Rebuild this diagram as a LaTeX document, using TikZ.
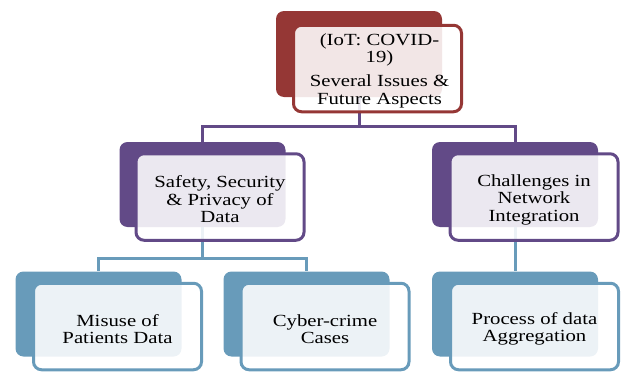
\documentclass[tikz,border=0pt]{standalone}
\usepackage{fontspec}
\setmainfont{Liberation Serif}[FakeStretch=1.22]
\definecolor{redc}{RGB}{149,55,53}
\definecolor{purc}{RGB}{98,74,135}
\definecolor{bluc}{RGB}{104,155,186}
\tikzset{
  backbox/.style={rounded corners=8pt, minimum width=166pt, minimum height=85pt, inner sep=0pt, draw=none, fill=#1},
  frontbox/.style={rounded corners=8pt, minimum width=168pt, minimum height=86.5pt, line width=3pt, draw=#1, fill=white, fill opacity=0.88, inner sep=0pt},
  txt/.style={align=center, inner sep=0pt, font=\fontsize{17}{17.5}\selectfont},
  conn/.style={line width=3pt, draw=#1},
}
\begin{document}
\begin{tikzpicture}[x=1pt,y=-1pt]
\useasboundingbox (0,0) rectangle (622,372);
% back boxes
\node[backbox=redc, minimum height=86pt] (topB) at (359,54) {};
\node[backbox=purc] (mlB) at (202.5,184.5) {};
\node[backbox=purc] (mrB) at (515,184.5) {};
\node[backbox=bluc] (b1B) at (98.5,314) {};
\node[backbox=bluc] (b2B) at (306.5,314) {};
\node[backbox=bluc] (b3B) at (515,314) {};
% connectors
\draw[conn=purc] (topB.south) -- ++(0,29) -| (mlB.north);
\draw[conn=purc] (topB.south) -- ++(0,29) -| (mrB.north);
\draw[conn=bluc] (mlB.south) -- ++(0,31) -| (b1B.north);
\draw[conn=bluc] (mlB.south) -- ++(0,31) -| (b2B.north);
\draw[conn=bluc] (mrB.south) -- (b3B.north);
% front boxes
\node[frontbox=redc] (topF) at (377.5,68.5) {};
\node[frontbox=purc] (mlF) at (220,197) {};
\node[frontbox=purc] (mrF) at (534,197) {};
\node[frontbox=bluc] (b1F) at (117.5,326.5) {};
\node[frontbox=bluc] (b2F) at (325,326.5) {};
\node[frontbox=bluc] (b3F) at (534.5,326.5) {};
% texts
\node[txt] (topT) at ([xshift=2pt,yshift=-2pt]topF.center) {(IoT: COVID-\\19)\\[6.5pt]Several Issues \&\\Future Aspects};
\node[txt] (mlT) at ([yshift=-2.5pt]mlF.center) {Safety, Security\\\& Privacy of\\Data};
\node[txt] (mrT) at ([yshift=-2.5pt]mrF.center) {Challenges in\\Network\\Integration};
\node[txt] (b1T) at ([yshift=-2.5pt]b1F.center) {Misuse of\\Patients Data};
\node[txt] (b2T) at ([yshift=-2.5pt]b2F.center) {Cyber-crime\\Cases};
\node[txt] (b3T) at ([yshift=-2.5pt]b3F.center) {Process of data\\Aggregation};
\end{tikzpicture}
\end{document}
